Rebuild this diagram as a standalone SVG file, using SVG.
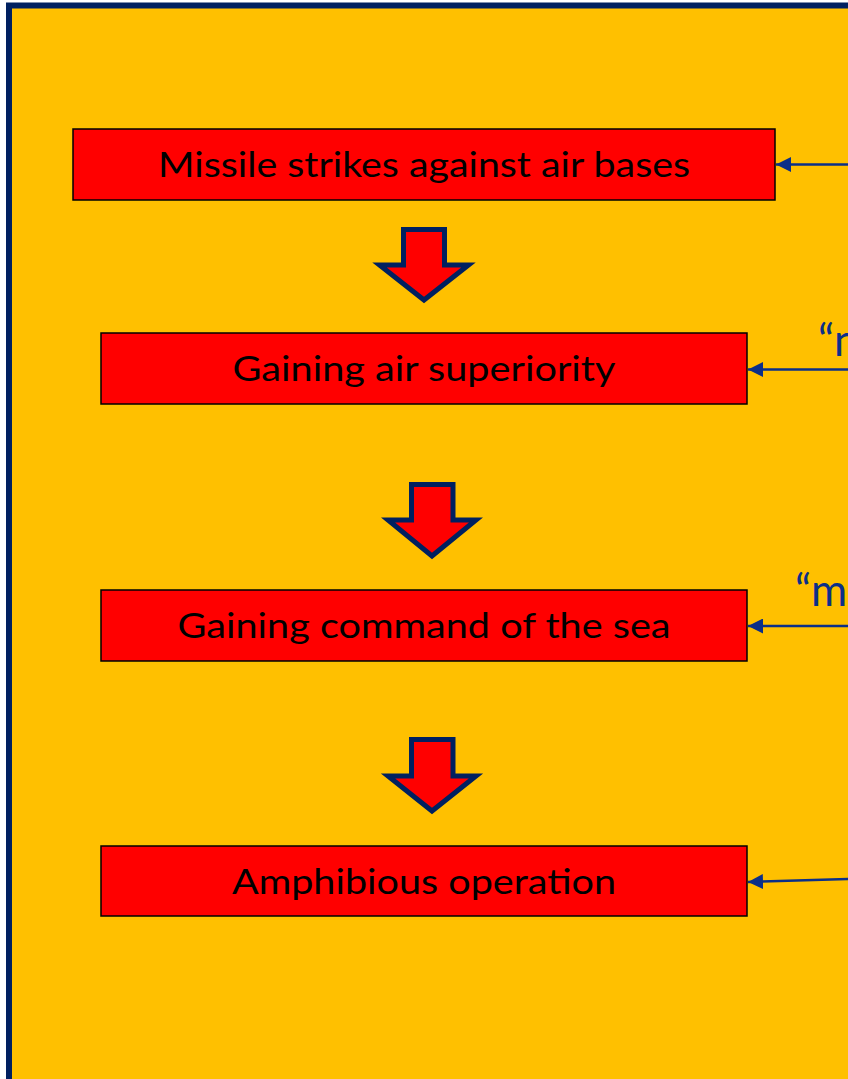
<svg xmlns="http://www.w3.org/2000/svg" width="848" height="1079" viewBox="0 0 848 1079">
<style>
.box{fill:#FF0000;stroke:#000000;stroke-width:1.5}
.lbl{font-family:Lato,"Open Sans","Liberation Sans",sans-serif;font-size:34px;fill:#000000;text-anchor:middle}
.blk{fill:#FF0000;stroke:#002060;stroke-width:5;stroke-linejoin:miter}
.conn{stroke:#0B2F88;stroke-width:2.5;fill:none}
.q{font-family:Lato,"Open Sans","Liberation Sans",sans-serif;font-size:44px;fill:#0B2F88}
</style>
<defs>
<marker id="ah" markerWidth="16" markerHeight="15" refX="15" refY="7.5" orient="auto" markerUnits="userSpaceOnUse">
<path d="M0,0 L15,7.5 L0,15 Z" fill="#0B2F88"/>
</marker>
</defs>
<rect x="0" y="0" width="848" height="1079" fill="#FFFFFF"/>
<rect id="frame" x="9" y="5.5" width="860" height="1100" fill="#FFC000" stroke="#002060" stroke-width="6"/>
<g id="n1">
<rect class="box" x="73" y="129" width="702" height="71"/>
<text class="lbl" x="424" y="177" textLength="532" lengthAdjust="spacingAndGlyphs">Missile strikes against air bases</text>
</g>
<g id="n2">
<rect class="box" x="101" y="333" width="646" height="71"/>
<text class="lbl" x="424" y="381" textLength="383" lengthAdjust="spacingAndGlyphs">Gaining air superiority</text>
</g>
<g id="n3">
<rect class="box" x="101" y="590" width="646" height="71"/>
<text class="lbl" x="424" y="638" textLength="493" lengthAdjust="spacingAndGlyphs">Gaining command of the sea</text>
</g>
<g id="n4">
<rect class="box" x="101" y="846" width="646" height="70"/>
<text class="lbl" x="424" y="894" textLength="384" lengthAdjust="spacingAndGlyphs">Amphibious operation</text>
</g>
<g id="a1"><path class="blk" d="M403.5,229.5 H444.5 V265 H468.5 L424,300 L379.5,265 H403.5 Z"/></g>
<g id="a2"><path class="blk" d="M411.5,484.5 H453 V520 H476 L432,556 L388,520 H411.5 Z"/></g>
<g id="a3"><path class="blk" d="M411.5,739.5 H453 V776 H476 L432,811 L388,776 H411.5 Z"/></g>
<g id="q1"><text class="q" x="818" y="356">“n</text></g>
<g id="q2"><text class="q" x="795" y="606">“m</text></g>
<g id="connectors">
<line class="conn" x1="850" y1="164.5" x2="776" y2="164.5" marker-end="url(#ah)"/>
<line class="conn" x1="850" y1="369.5" x2="748" y2="369.5" marker-end="url(#ah)"/>
<line class="conn" x1="850" y1="626" x2="748" y2="626" marker-end="url(#ah)"/>
<line class="conn" x1="850" y1="879" x2="748" y2="882" marker-end="url(#ah)"/>
</g>
</svg>
